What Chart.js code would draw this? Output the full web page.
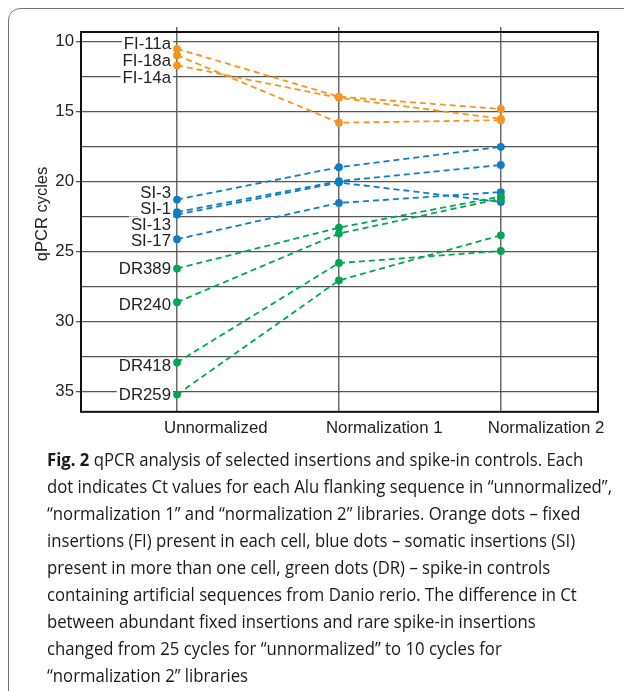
<!DOCTYPE html>
<html>
<head>
<meta charset="utf-8">
<script src="https://cdn.jsdelivr.net/npm/chart.js@4.4.1/dist/chart.umd.min.js"></script>
<style>
html,body{margin:0;padding:0;background:#fff;width:624px;height:691px;overflow:hidden;}
#frame{position:absolute;left:8px;top:8px;width:700px;height:800px;border:1.5px solid #777;border-radius:12px;box-sizing:border-box;}
#wrap{position:absolute;left:0;top:0;width:624px;height:450px;}
#caption{position:absolute;left:47px;top:446px;font-family:"Open Sans",sans-serif;font-size:18px;color:#1a1a1a;transform-origin:0 0;white-space:nowrap;}
#caption div{height:27px;line-height:27px;}
</style>
</head>
<body>
<div id="frame"></div>
<div id="wrap"><canvas id="c" width="624" height="450"></canvas></div>
<div id="caption">
<div><span><b>Fig. 2</b> qPCR analysis of selected insertions and spike-in controls. Each</span></div>
<div><span>dot indicates Ct values for each Alu flanking sequence in “unnormalized”,</span></div>
<div><span>“normalization 1” and “normalization 2” libraries. Orange dots – fixed</span></div>
<div><span>insertions (FI) present in each cell, blue dots – somatic insertions (SI)</span></div>
<div><span>present in more than one cell, green dots (DR) – spike-in controls</span></div>
<div><span>containing artificial sequences from Danio rerio. The difference in Ct</span></div>
<div><span>between abundant fixed insertions and rare spike-in insertions</span></div>
<div><span>changed from 25 cycles for “unnormalized” to 10 cycles for</span></div>
<div><span>“normalization 2” libraries</span></div>
</div>
<script>
// ---- data ----
const categories = ['Unnormalized', 'Normalization 1', 'Normalization 2'];
const yTickValues = [10, 12.5, 15, 17.5, 20, 22.5, 25, 27.5, 30, 32.5, 35];

const fiNames = ['FI-11a', 'FI-18a', 'FI-14a'];
const FI_11a = [10.5, 13.92, 14.8];
const FI_18a = [10.96, 15.78, 15.6];
const FI_14a = [11.68, 14.0, 15.5];
const fiLabelAt = [10.18, 11.39, 12.6];

const siNames = ['SI-3', 'SI-1', 'SI-13', 'SI-17'];
const SI_3 = [21.27, 18.96, 17.5];
const SI_1 = [22.16, 19.95, 18.8];
const SI_13 = [22.34, 20.05, 21.44];
const SI_17 = [24.1, 21.51, 20.73];
const siLabelAt = [20.76, 21.96, 23.04, 24.23];

const drNames = ['DR389', 'DR240', 'DR418', 'DR259'];
const DR389 = [26.2, 23.27, 21.05];
const DR240 = [28.6, 23.7, 21.2];
const DR418 = [32.9, 25.8, 24.94];
const DR259 = [35.2, 27.04, 23.82];
const drLabelAt = [26.2, 28.82, 33.16, 35.25];

// ---- styles ----
const ORANGE = '#F7941D', BLUE = '#0D7EC4', GREEN = '#00A651';
const FONT = '"Liberation Sans", Arial, sans-serif';

const groups = [
  {names: fiNames, values: [FI_11a, FI_18a, FI_14a], labelAt: fiLabelAt, color: ORANGE},
  {names: siNames, values: [SI_3, SI_1, SI_13, SI_17], labelAt: siLabelAt, color: BLUE},
  {names: drNames, values: [DR389, DR240, DR418, DR259], labelAt: drLabelAt, color: GREEN}
];

const datasets = [];
[groups[2], groups[1], groups[0]].forEach(g => {
  g.values.forEach((vals, i) => {
    datasets.push({
      label: g.names[i],
      data: vals.map((v, k) => ({x: k, y: v})),
      borderColor: g.color,
      backgroundColor: g.color,
      pointBackgroundColor: g.color,
      borderWidth: 1.8,
      borderDash: [6, 4],
      pointRadius: 3.9,
      pointBorderWidth: 0,
      tension: 0
    });
  });
});

const annot = {
  id: 'annot',
  beforeDatasetsDraw(chart) {
    const {ctx, chartArea: a, scales: {x, y}} = chart;
    ctx.save();
    ctx.strokeStyle = '#111';
    ctx.lineWidth = 2;
    ctx.strokeRect(a.left, a.top, a.right - a.left, a.bottom - a.top);
    ctx.font = '16.8px ' + FONT;
    ctx.textAlign = 'right';
    ctx.textBaseline = 'middle';
    const xr = x.getPixelForValue(0) - 6;
    groups.forEach(g => g.names.forEach((n, i) => {
      const py = y.getPixelForValue(g.labelAt[i]);
      const w = ctx.measureText(n).width;
      ctx.fillStyle = '#fff';
      ctx.fillRect(xr - w - 2, py - 8, w + 4, 16);
      ctx.fillStyle = '#222';
      ctx.fillText(n, xr, py + 0.5);
    }));
    ctx.font = '16.5px ' + FONT;
    ctx.translate(42, 214);
    ctx.rotate(-Math.PI / 2);
    ctx.textAlign = 'center';
    ctx.fillStyle = '#222';
    ctx.fillText('qPCR cycles', 0, 0);
    ctx.restore();
  }
};

const X_MIN = -0.593, X_MAX = 2.6;
new Chart(document.getElementById('c'), {
  type: 'line',
  data: {datasets},
  options: {
    responsive: false,
    animation: false,
    layout: {padding: {top: 27, right: 26, bottom: 6, left: 0}},
    plugins: {legend: {display: false}, tooltip: {enabled: false}},
    scales: {
      x: {
        type: 'linear', position: 'bottom', min: X_MIN, max: X_MAX,
        afterBuildTicks: s => { s.ticks = categories.map((c, i) => ({value: i})); },
        afterFit: s => { s.paddingLeft = 0; s.paddingRight = 0; },
        ticks: {
          align: 'start', labelOffset: -13, padding: 6, autoSkip: false, maxRotation: 0,
          font: {family: FONT, size: 16.8}, color: '#222',
          callback: v => categories[v]
        },
        grid: {color: '#6a6a6a', lineWidth: 1.5, drawTicks: false},
        border: {display: false}
      },
      x2: {
        type: 'linear', position: 'top', min: X_MIN, max: X_MAX,
        afterBuildTicks: s => { s.ticks = categories.map((c, i) => ({value: i})); },
        ticks: {display: false},
        grid: {drawOnChartArea: false, drawTicks: true, tickLength: 5, color: '#6a6a6a', lineWidth: 1.5},
        border: {display: false}
      },
      y: {
        type: 'linear', reverse: true, min: 9.3, max: 36.43,
        afterBuildTicks: s => { s.ticks = yTickValues.map(v => ({value: v})); },
        afterFit: s => { s.width = 81; },
        ticks: {
          padding: 2, autoSkip: false, font: {family: FONT, size: 16.8}, color: '#222',
          callback: v => (v % 5 === 0 ? String(v) : '')
        },
        grid: {
          color: '#555', lineWidth: 1.3, tickLength: 5,
          tickColor: c => (c.tick && c.tick.value % 5 === 0) ? '#555' : 'rgba(0,0,0,0)'
        },
        border: {display: false}
      }
    }
  },
  plugins: [annot]
});

// fit caption width
const cap = document.getElementById('caption');
const refSpan = cap.children[1].firstElementChild;
const w = refSpan.getBoundingClientRect().width;
cap.style.transform = 'scaleX(' + (565 / w) + ')';
</script>
</body>
</html>
